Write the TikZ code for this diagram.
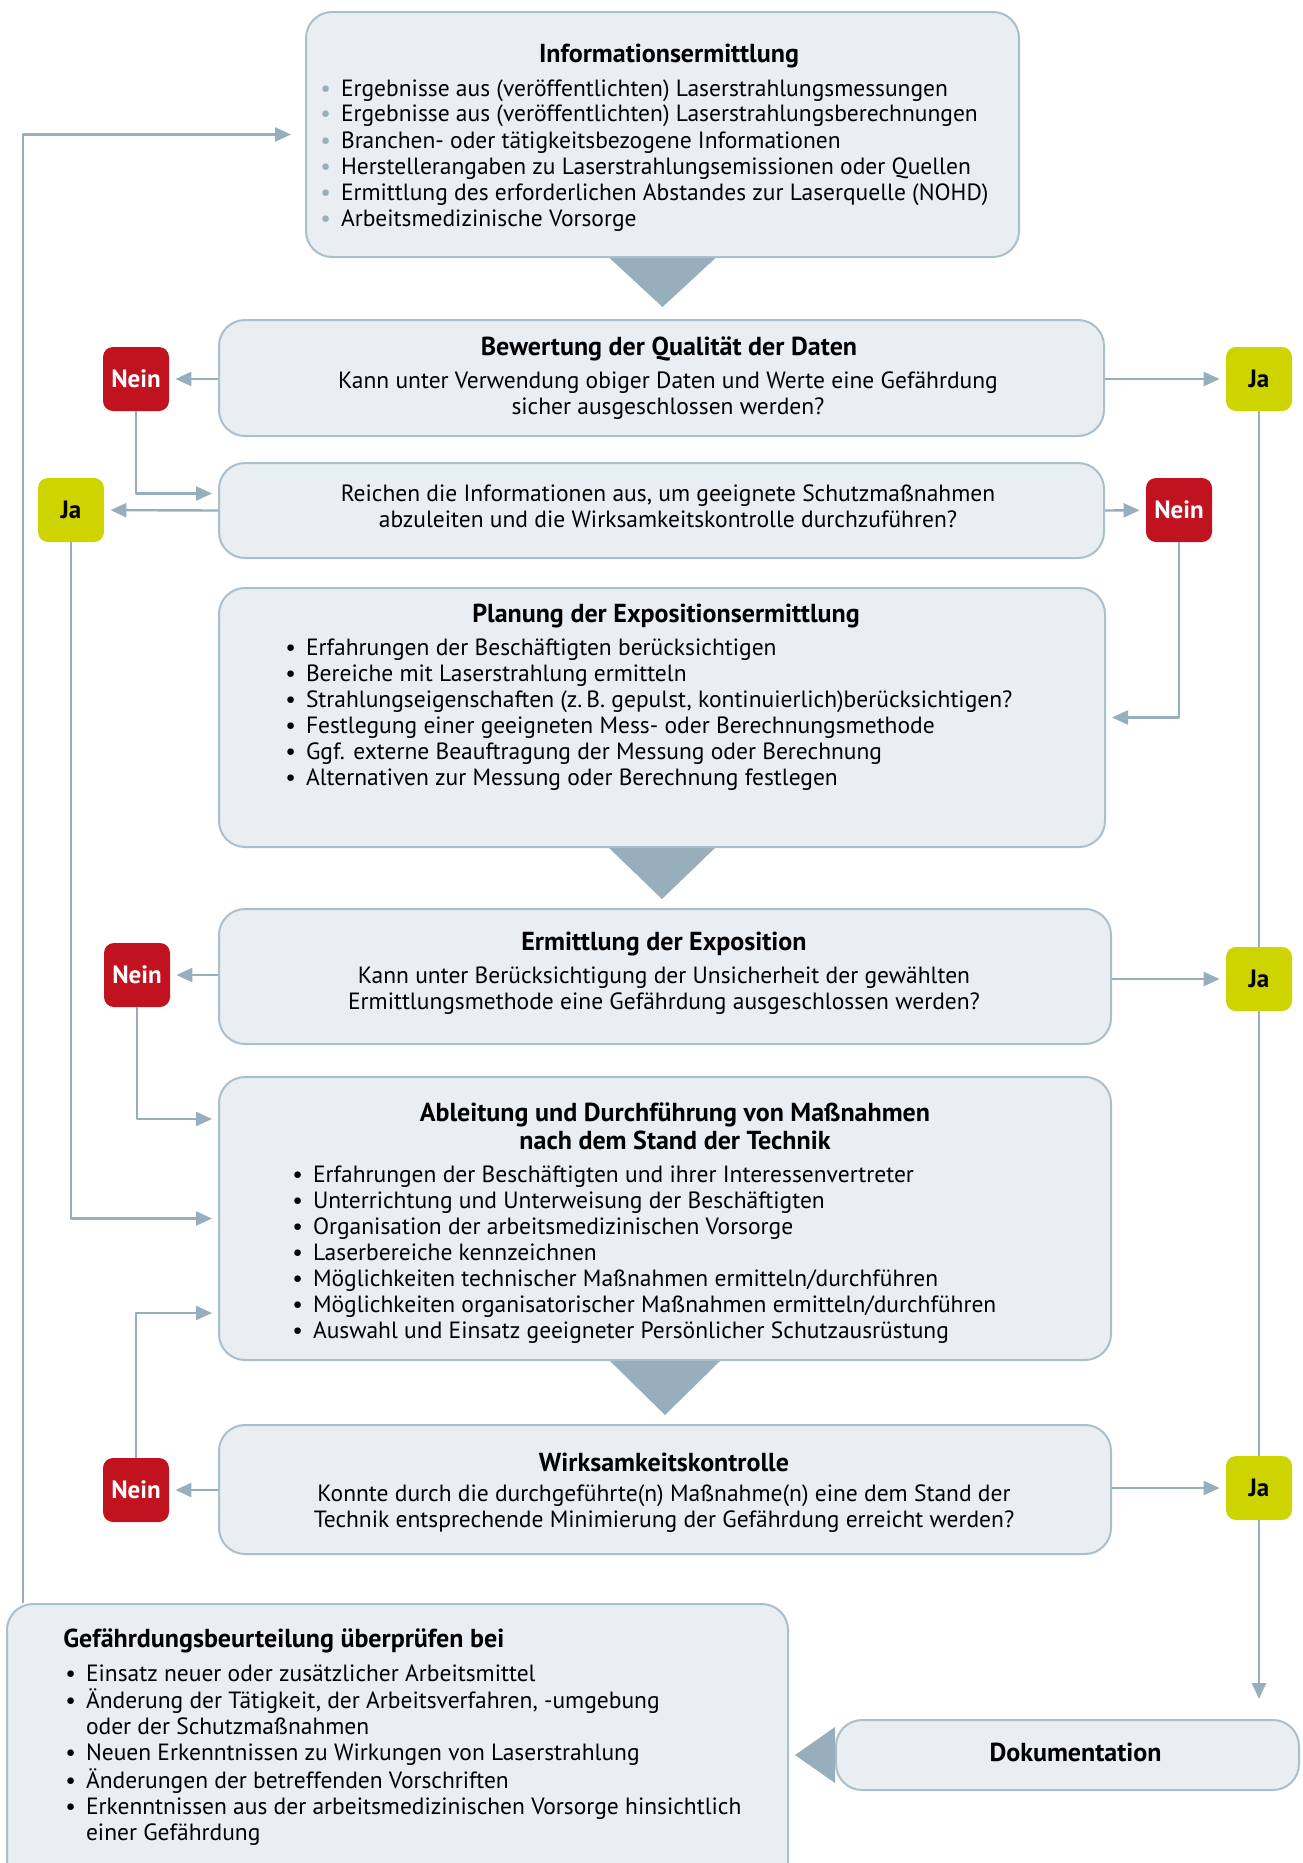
\documentclass[tikz,border=0pt]{standalone}
\usepackage{fontspec}
\setmainfont{PT Sans}
\usetikzlibrary{arrows.meta,fit,positioning}
\definecolor{boxfill}{HTML}{E9EEF3}
\definecolor{boxline}{HTML}{A9BFCC}
\definecolor{pfeil}{HTML}{97AFBC}
\definecolor{neinrot}{HTML}{C1121F}
\definecolor{jagruen}{HTML}{CDD400}
\newcommand{\punkte}[1]{\begin{tabular}[t]{@{}l@{\hspace{5pt}}l@{}}#1\end{tabular}}
\begin{document}
\begin{tikzpicture}[x=0.5pt, y=-0.5pt, font=\fontsize{11.75}{13}\selectfont, line join=round,
	box/.style={draw=boxline, line width=1pt, fill=boxfill, rounded corners=13pt, inner sep=0pt},
	nein/.style={fill=neinrot, text=white, rounded corners=5pt, minimum width=33pt, minimum height=32pt, inner sep=0pt, font=\fontsize{12.5}{13}\selectfont\bfseries},
	ja/.style={nein, fill=jagruen, text=black},
	pf/.style={draw=pfeil, line width=1.2pt, -{Triangle[length=8pt,width=7pt]}, shorten >=3pt},
	linie/.style={draw=pfeil, line width=1.2pt},
	titel/.style={inner sep=0pt, font=\fontsize{13}{14}\selectfont\bfseries},
	txt/.style={inner sep=0pt, align=center},
	liste/.style={anchor=base west, inner sep=0pt}]
	\useasboundingbox (0,0) rectangle (1302,1863);
	% Kästen
	\node[box, fit={(306,12) (1019,257)}] (info) {};
	\fill[pfeil] (info.south) ++(-53,0) -- ++(106,0) -- ++(-53,49) -- cycle;%Spitze unten
	\node[titel] (infotitel) at (669,56) {Informationsermittlung};
	\node[liste] (infoliste) at (320,96) {\punkte{
		\textcolor{pfeil}{•} & Ergebnisse aus (veröffentlichten) Laserstrahlungsmessungen\\
		\textcolor{pfeil}{•} & Ergebnisse aus (veröffentlichten) Laserstrahlungsberechnungen\\
		\textcolor{pfeil}{•} & Branchen- oder tätigkeitsbezogene Informationen\\
		\textcolor{pfeil}{•} & Herstellerangaben zu Laserstrahlungsemissionen oder Quellen\\
		\textcolor{pfeil}{•} & Ermittlung des erforderlichen Abstandes zur Laserquelle (NOHD)\\
		\textcolor{pfeil}{•} & Arbeitsmedizinische Vorsorge}};

	\node[box, fit={(219,320) (1104,436)}] (bewert) {};
	\node[titel] (bewerttitel) at (669,349) {Bewertung der Qualität der Daten};
	\node[txt] (bewerttext) at (668,396) {Kann unter Verwendung obiger Daten und Werte eine Gefährdung\\sicher ausgeschlossen werden?};

	\node[box, fit={(219,463) (1104,558)}] (reichen) {};
	\node[txt] (reichentext) at (668,506) {Reichen die Informationen aus, um geeignete Schutzmaßnahmen\\abzuleiten und die Wirksamkeitskontrolle durchzuführen?};

	\node[box, fit={(219,588) (1105,847)}] (planung) {};
	\fill[pfeil] (planung.south) ++(-53,0) -- ++(106,0) -- ++(-53,51) -- cycle;
	\node[titel] (planungtitel) at (666,616) {Planung der Expositionsermittlung};
	\node[liste] (planungliste) at (285,655) {\punkte{
		• & Erfahrungen der Beschäftigten berücksichtigen\\
		• & Bereiche mit Laserstrahlung ermitteln\\
		• & Strahlungseigenschaften (z.\,B. gepulst, kontinuierlich)berücksichtigen?\\
		• & Festlegung einer geeigneten Mess- oder Berechnungsmethode\\
		• & Ggf. externe Beauftragung der Messung oder Berechnung\\
		• & Alternativen zur Messung oder Berechnung festlegen}};

	\node[box, fit={(219,909) (1111,1044)}] (ermitt) {};
	\node[titel] (ermitttitel) at (664,944) {Ermittlung der Exposition};
	\node[txt] (ermitttext) at (664,991) {Kann unter Berücksichtigung der Unsicherheit der gewählten\\Ermittlungsmethode eine Gefährdung ausgeschlossen werden?};

	\node[box, fit={(219,1077) (1111,1360)}] (ableit) {};
	\fill[pfeil] (ableit.south) ++(-55,0) -- ++(110,0) -- ++(-55,54) -- cycle;
	\node[titel, align=center] (ableittitel) at (675,1126) {Ableitung und Durchführung von Maßnahmen\\nach dem Stand der Technik};
	\node[liste] (ableitliste) at (292,1182) {\punkte{
		• & Erfahrungen der Beschäftigten und ihrer Interessenvertreter\\
		• & Unterrichtung und Unterweisung der Beschäftigten\\
		• & Organisation der arbeitsmedizinischen Vorsorge\\
		• & Laserbereiche kennzeichnen\\
		• & Möglichkeiten technischer Maßnahmen ermitteln/durchführen\\
		• & Möglichkeiten organisatorischer Maßnahmen ermitteln/durchführen\\
		• & Auswahl und Einsatz geeigneter Persönlicher Schutzausrüstung}};

	\node[box, fit={(219,1425) (1111,1554)}] (wirk) {};
	\node[titel] (wirktitel) at (664,1462) {Wirksamkeitskontrolle};
	\node[txt] (wirktext) at (664,1509) {Konnte durch die durchgeführte(n) Maßnahme(n) eine dem Stand der\\Technik entsprechende Minimierung der Gefährdung erreicht werden?};

	\node[box, fit={(7,1604) (788,1895)}] (gefbeur) {};
	\node[titel, anchor=west] (gefbeurtitel) at (63,1641) {Gefährdungsbeurteilung überprüfen bei};
	\node[liste] (gefbeurliste) at (65,1681) {\punkte{
		• & Einsatz neuer oder zusätzlicher Arbeitsmittel\\
		• & Änderung der Tätigkeit, der Arbeitsverfahren, -umgebung\\
		  & oder der Schutzmaßnahmen\\
		• & Neuen Erkenntnissen zu Wirkungen von Laserstrahlung\\
		• & Änderungen der betreffenden Vorschriften\\
		• & Erkenntnissen aus der arbeitsmedizinischen Vorsorge hinsichtlich\\
		  & einer Gefährdung}};

	\node[box, fit={(836,1720) (1299,1790)}] (doku) {};
	\node[titel] (dokutext) at ([xshift=4pt,yshift=1.5pt]doku.center) {Dokumentation};
	\fill[pfeil] (doku.west) ++(0,-28) -- ++(0,56) -- ++(-40,-28) -- cycle;%Spitze links

	% Ja / Nein
	\node[nein] (nein1) at (136,379) {Nein};
	\node[ja] (ja1) at (1259,379) {Ja};
	\node[ja] (ja2) at (71,510) {Ja};
	\node[nein] (nein2) at (1179,510) {Nein};
	\node[nein] (nein3) at (137,975) {Nein};
	\node[ja] (ja3) at (1259,979) {Ja};
	\node[nein] (nein4) at (136,1490) {Nein};
	\node[ja] (ja4) at (1259,1488) {Ja};

	% Pfeile
	\draw[pf, shorten >=7pt] ([xshift=8.5pt]gefbeur.north west) |- (info.west);%Rückführung
	\draw[pf] (bewert.west |- nein1) -- (nein1);
	\draw[pf] (bewert.east |- ja1) -- (ja1);
	\draw[pf] (nein1.south) |- ([yshift=8.5pt]reichen.west);
	\draw[pf] (reichen.west) -- (ja2);
	\draw[pf] (reichen.east) -- (nein2);
	\draw[pf] (nein2.south) |- (planung.east);
	\draw[pf] (ja2.south) |- (ableit.west);
	\draw[pf] (ermitt.west |- nein3) -- (nein3);
	\draw[pf] (ermitt.east |- ja3) -- (ja3);
	\draw[pf] (nein3.south) |- ([yshift=49.75pt]ableit.west);
	\draw[pf] (nein4.north) |- ([yshift=-47.25pt]ableit.west);
	\draw[pf] (wirk.west |- nein4) -- (nein4);
	\draw[pf] (wirk.east |- ja4) -- (ja4);
	\draw[linie] (ja1) -- (ja3);
	\draw[linie] (ja3) -- (ja4);
	\draw[pf, shorten >=10pt] (ja4.south) -- (ja4.south |- doku.north);
\end{tikzpicture}
\end{document}
